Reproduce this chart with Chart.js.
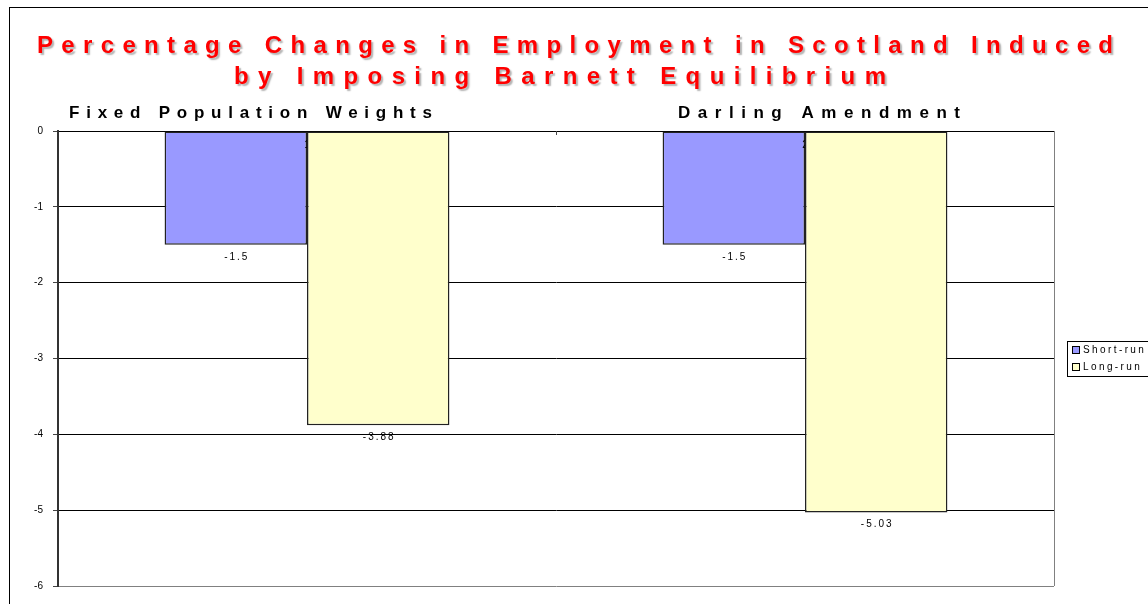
<!DOCTYPE html>
<html lang="en">
<head>
    <meta charset="UTF-8">
    <title>Percentage Changes in Employment in Scotland</title>
    <style>
        html, body {
            margin: 0;
            padding: 0;
            background: #fff;
            overflow: hidden;
        }
        #wrap {
            width: 1148px;
            height: 604px;
            position: relative;
        }
    </style>
</head>
<body>
    <div id="wrap">
        <canvas id="empChart" width="1148" height="604"></canvas>
    </div>
    <script src="https://cdn.jsdelivr.net/npm/chart.js"></script>
    <script>
        // chart data
        const categories = ['1', '2'];
        const seriesNames = ['Short-run', 'Long-run'];
        const shortRun = [-1.5, -1.5];
        const longRun = [-3.88, -5.03];
        const panelTitles = ['Fixed Population Weights', 'Darling Amendment'];
        const titleLines = ['Percentage Changes in Employment in Scotland Induced', 'by Imposing Barnett Equilibrium'];
        const yMin = -6, yMax = 0, yStep = 1;

        const FONT = "'Liberation Sans', Arial, sans-serif";

        // draw text stretched with letter spacing so it covers a given width
        function spacedText(ctx, text, x, y, width) {
            ctx.letterSpacing = '0px';
            const w = ctx.measureText(text).width;
            const sp = (width - w) / (text.length - 1);
            ctx.letterSpacing = sp + 'px';
            ctx.textAlign = 'left';
            ctx.fillText(text, x, y);
        }
        function centeredSpaced(ctx, text, cx, y, sp) {
            ctx.letterSpacing = '0px';
            const w = ctx.measureText(text).width + sp * (text.length - 1);
            ctx.letterSpacing = sp + 'px';
            ctx.textAlign = 'left';
            ctx.fillText(text, cx - w / 2, y);
        }

        const decorPlugin = {
            id: 'decor',
            beforeDraw(chart) {
                const ctx = chart.ctx;
                ctx.save();
                // outer chart frame
                ctx.strokeStyle = '#000';
                ctx.lineWidth = 1;
                ctx.strokeRect(9.5, 7.5, 2000, 2000);

                // title with soft shadow
                ctx.font = 'bold 24px ' + FONT;
                ctx.fillStyle = '#FF0000';
                ctx.textBaseline = 'alphabetic';
                ctx.shadowColor = 'rgba(0,0,0,0.3)';
                ctx.shadowOffsetX = 2;
                ctx.shadowOffsetY = 2;
                ctx.shadowBlur = 1.5;
                spacedText(ctx, titleLines[0], 37, 53, 1076);
                spacedText(ctx, titleLines[1], 234, 84, 652);
                ctx.restore();

                ctx.save();
                ctx.font = 'bold 17px ' + FONT;
                ctx.fillStyle = '#000';
                spacedText(ctx, panelTitles[0], 69, 118, 363);
                spacedText(ctx, panelTitles[1], 678, 118, 282);
                ctx.restore();
            },
            afterDatasetsDraw(chart) {
                const ctx = chart.ctx;
                const area = chart.chartArea;
                const xs = chart.scales.x;
                ctx.save();

                // right border of plot area
                ctx.strokeStyle = '#808080';
                ctx.lineWidth = 1;
                ctx.beginPath();
                ctx.moveTo(Math.round(area.right) + 0.5, area.top);
                ctx.lineTo(Math.round(area.right) + 0.5, area.bottom);
                ctx.stroke();

                // small category divider tick on the zero line
                const mid = (xs.getPixelForValue(0) + xs.getPixelForValue(1)) / 2;
                ctx.strokeStyle = '#444';
                ctx.beginPath();
                ctx.moveTo(Math.round(mid) + 0.5, area.top);
                ctx.lineTo(Math.round(mid) + 0.5, area.top + 4);
                ctx.stroke();

                // category labels, partly hidden behind the long-run bars
                const longMeta = chart.getDatasetMeta(1);
                ctx.font = '10px ' + FONT;
                ctx.fillStyle = '#000';
                ctx.textBaseline = 'middle';
                categories.forEach((c, i) => {
                    const bar = longMeta.data[i];
                    const edge = bar.x - bar.width / 2;
                    ctx.save();
                    ctx.beginPath();
                    ctx.rect(area.left, area.top, edge - area.left, 40);
                    ctx.clip();
                    ctx.textAlign = 'center';
                    ctx.fillText(c, xs.getPixelForValue(i), area.top + 14);
                    ctx.restore();
                });

                // value labels below each bar
                ctx.font = '10px ' + FONT;
                ctx.fillStyle = '#000';
                ctx.textBaseline = 'middle';
                chart.data.datasets.forEach((ds, di) => {
                    const meta = chart.getDatasetMeta(di);
                    meta.data.forEach((bar, i) => {
                        centeredSpaced(ctx, String(ds.data[i]), bar.x, bar.y + 12, 2);
                    });
                });

                // legend box
                ctx.strokeStyle = '#000';
                ctx.lineWidth = 1;
                ctx.strokeRect(1067.5, 341.5, 200, 35);
                ctx.font = '10px ' + FONT;
                chart.data.datasets.forEach((ds, di) => {
                    const y = 350 + di * 17;
                    ctx.fillStyle = ds.backgroundColor;
                    ctx.fillRect(1072, y - 4, 8, 8);
                    ctx.strokeStyle = '#000';
                    ctx.strokeRect(1072.5, y - 3.5, 7, 7);
                    ctx.fillStyle = '#000';
                    ctx.letterSpacing = '2.4px';
                    ctx.textAlign = 'left';
                    ctx.textBaseline = 'middle';
                    ctx.fillText(ds.label, 1083, y);
                });
                ctx.restore();
            }
        };

        const ctx = document.getElementById('empChart').getContext('2d');
        new Chart(ctx, {
            type: 'bar',
            data: {
                labels: categories,
                datasets: [{
                    label: seriesNames[0],
                    data: shortRun,
                    backgroundColor: '#9999FF',
                    borderColor: '#222',
                    borderWidth: 1.5,
                    borderSkipped: false
                }, {
                    label: seriesNames[1],
                    data: longRun,
                    backgroundColor: '#FFFFCC',
                    borderColor: '#222',
                    borderWidth: 1.5,
                    borderSkipped: false
                }]
            },
            options: {
                responsive: false,
                animation: false,
                devicePixelRatio: 1,
                categoryPercentage: 0.572,
                barPercentage: 1,
                layout: { padding: { left: 0, top: 131, right: 94, bottom: 18 } },
                plugins: {
                    legend: { display: false },
                    title: { display: false },
                    tooltip: { enabled: false }
                },
                scales: {
                    x: {
                        display: false,
                        offset: true
                    },
                    y: {
                        min: yMin,
                        max: yMax,
                        afterFit(scale) { scale.width = 58; },
                        ticks: {
                            stepSize: yStep,
                            padding: 10,
                            color: '#000',
                            font: { family: FONT, size: 10 }
                        },
                        grid: {
                            color: (c) => c.tick && c.tick.value === yMin ? '#808080' : '#000',
                            tickColor: '#444',
                            tickLength: 5,
                            lineWidth: 1
                        },
                        border: { display: true, color: '#333', width: 2 }
                    }
                }
            },
            plugins: [decorPlugin]
        });
    </script>
</body>
</html>
